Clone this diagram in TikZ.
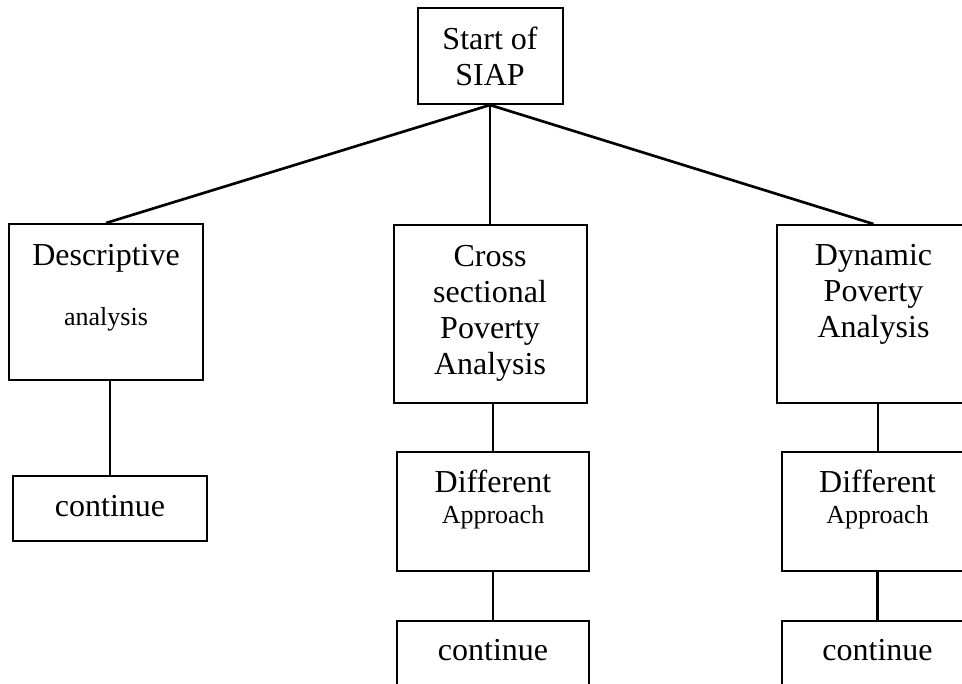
\documentclass[tikz,border=0pt]{standalone}
\usepackage{fontspec}
\setmainfont{Liberation Serif}

\tikzset{
  box/.style={draw, line width=1.5pt, inner sep=0pt},
  boxtext/.style={inner sep=0pt, anchor=base, align=center, font=\fontsize{24}{27}\selectfont},
  link/.style={line width=1.5pt},
  toplink/.style={line width=2pt}
}
\newcommand{\smalltext}{\fontsize{19.5}{23.25}\selectfont}

\begin{document}
\begin{tikzpicture}[x=0.75pt,y=-0.75pt]

\useasboundingbox (0,0) rectangle (962,684);
\clip (0,0) rectangle (962,684);

\node[box, minimum width=108.75pt, minimum height=72pt] (start) at (490,56) {};

\node[box, minimum width=145.5pt, minimum height=117pt] (desc) at (106,302) {};
\node[box, minimum width=144.75pt, minimum height=133.5pt] (cross) at (490,314) {};
\node[box, minimum width=144.75pt, minimum height=133.5pt] (dyn) at (873.5,314) {};

\node[box, minimum width=145.5pt, minimum height=48.75pt] (contA) at (110,508.5) {};

\node[box, minimum width=144pt, minimum height=89.25pt] (diffB) at (493,511.5) {};
\node[box, minimum width=144pt, minimum height=49.5pt] (contB) at (493,654) {};

\node[box, minimum width=144pt, minimum height=89.25pt] (diffC) at (877.5,511.5) {};
\node[box, minimum width=144pt, minimum height=49.5pt] (contC) at (877.5,654) {};

\node[boxtext] (startT) at (490,86) {Start of\\SIAP};
\node[boxtext] (descT) at (106,325) {Descriptive\\[18pt]{\smalltext analysis}};
\node[boxtext] (crossT) at (490,374) {Cross\\sectional\\Poverty\\Analysis};
\node[boxtext] (dynT) at (873.5,337) {Dynamic\\Poverty\\Analysis};
\node[boxtext] (contAT) at (110,516) {continue};
\node[boxtext] (diffBT) at (493,523) {Different\\[-3.75pt]{\smalltext Approach}};
\node[boxtext] (contBT) at (493,660) {continue};
\node[boxtext] (diffCT) at (877.5,523) {Different\\[-3.75pt]{\smalltext Approach}};
\node[boxtext] (contCT) at (877.5,660) {continue};

\draw[toplink] (start.south) -- (desc.north);
\draw[toplink] (start.south) -- (cross.north);
\draw[toplink] (start.south) -- (dyn.north);

\draw[link] (contA.north) -- (contA.north |- desc.south);
\draw[link] (diffB.north) -- (diffB.north |- cross.south);
\draw[toplink] (contB.north) -- (diffB.south);
\draw[link] (diffC.north) -- (diffC.north |- dyn.south);
\draw[toplink] (contC.north) -- (diffC.south);

\end{tikzpicture}
\end{document}
